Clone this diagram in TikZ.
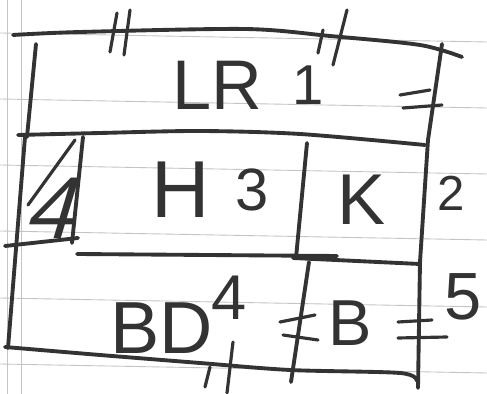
\documentclass[tikz,border=0pt]{standalone}
\usepackage{fontspec}
\setmainfont{Liberation Sans}
\usepackage{tikz}
\usetikzlibrary{positioning}

\definecolor{ink}{HTML}{333333}
\definecolor{ruling}{HTML}{C4C4C4}

\begin{document}
\begin{tikzpicture}[
    x=0.02cm, y=-0.02cm,
    wall/.style={draw=ink, line width=2.2pt, line cap=round, line join=round},
    tick/.style={draw=ink, line width=1.8pt, line cap=round},
    rule/.style={draw=ruling, line width=0.5pt},
    lbl/.style={text=ink, inner sep=0pt, font=\fontsize{#1}{#1}\selectfont}
]
% paper
\fill[white] (0,0) rectangle (487,394);
\useasboundingbox (0,0) rectangle (487,394);
\foreach \y in {33,99,165,231,298,364}
    \draw[rule] (0,\y) -- (487,\y+9);
\foreach \x in {7,21}
    \draw[rule] (\x,0) -- (\x,394);

% walls
\draw[wall] plot[smooth] coordinates {(13,35) (80,32) (245,29) (330,36) (420,45) (462,57)};
\draw[wall] (442,44) -- (428,140) -- (420,262) -- (418,388);
\draw[wall] (36,44) -- (27,137);
\draw[wall] plot[smooth] coordinates {(18,135) (100,133) (200,131) (300,134) (425,145)};
\draw[wall] (25,137) -- (8,348);
\draw[wall] (83,137) -- (72,243);
\draw[wall] (5,246) -- (78,238);
\draw[wall] (77,254) -- (337,256);
\draw[wall] (307,143) -- (296,258);
\draw[wall] (293,258) -- (420,264);
\draw[wall] (309,262) -- (291,382);
\draw[wall] plot[smooth] coordinates {(5,347) (100,355) (200,363) (290,370) (400,373) (417,381)};

% windows and doors
\draw[tick] (110,52) -- (117,13);
\draw[tick] (124,55) -- (130,10);
\draw[tick] (318,53) -- (323,30);
\draw[tick] (333,65) -- (347,10);
\draw[tick] (400,95) -- (430,90);
\draw[tick] (403,108) -- (442,105);
\draw[tick] (205,387) -- (210,367);
\draw[tick] (227,393) -- (233,342);
\draw[tick] (280,322) -- (315,315);
\draw[tick] (283,335) -- (318,340);
\draw[tick] (398,322) -- (432,320);
\draw[tick] (398,338) -- (447,337);
\draw[tick] (28,205) -- (75,140);

% rooms
\node[lbl=40] (lr) at (217,85) {LR};
\node[lbl=32, right=6mm of lr] (one) {1};
\node[lbl=46] (hall) at (181,190) {H};
\node[lbl=34, right=5mm of hall] (three) {3};
\node[lbl=41] (kit) at (362,200) {K};
\node[lbl=28] (two) at (451,193) {2};
\node[lbl=50, xslant=0.3] (closet) at (57,208) {4};
\node[lbl=42] (bd) at (162,328) {BD};
\node[lbl=36] (four) at (229,298) {4};
\node[lbl=37] (bath) at (350,323) {B};
\node[lbl=38] (five) at (463,297) {5};
\end{tikzpicture}
\end{document}
